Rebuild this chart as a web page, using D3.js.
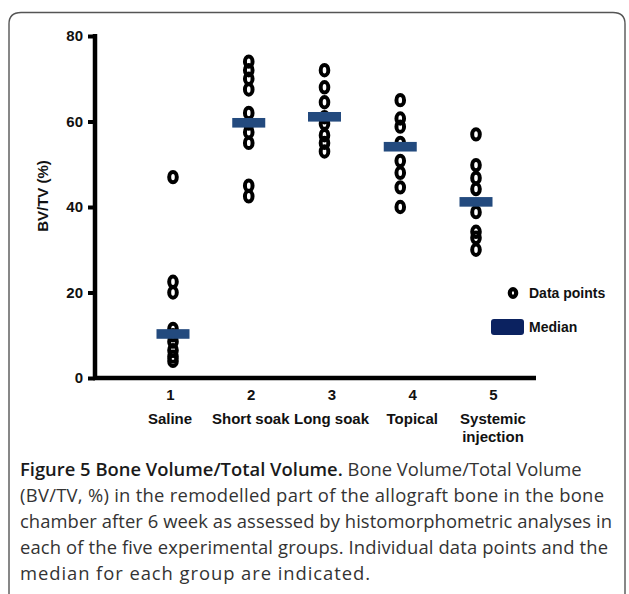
<!DOCTYPE html>
<html>
<head>
<meta charset="utf-8">
<script src="https://cdn.jsdelivr.net/npm/d3@7"></script>
<style>
  html, body { margin: 0; padding: 0; background: #fff; }
  svg { display: block; }
</style>
</head>
<body>
<svg id="chart" width="629" height="594"></svg>
<script>
// ---- data ----
const groupIds = [1, 2, 3, 4, 5];
const groupNames = ["Saline", "Short soak", "Long soak", "Topical", "Systemic\ninjection"];
const saline = [47, 22.5, 20, 11.5, 10, 8.5, 6.5, 5, 4];
const shortSoak = [74, 72, 70, 67.5, 62, 59.5, 57.5, 55, 45, 42.5];
const longSoak = [72, 68, 64.5, 61, 59.5, 56.8, 55, 53];
const topical = [65, 60.7, 58.8, 55, 50.8, 48, 44.6, 40];
const systemic = [57, 49.8, 46.8, 44.2, 38.8, 34.2, 32.8, 30];
const medians = [10.3, 59.7, 61.1, 54.1, 41.2];
const yTicks = [0, 20, 40, 60, 80];
const legendLabels = ["Data points", "Median"];
const captionBold = "Figure 5 Bone Volume/Total Volume.";
const captionLines = [
  " Bone Volume/Total Volume",
  "(BV/TV, %) in the remodelled part of the allograft bone in the bone",
  "chamber after 6 week as assessed by histomorphometric analyses in",
  "each of the five experimental groups. Individual data points and the",
  "median for each group are indicated."
];
const series = [saline, shortSoak, longSoak, topical, systemic];

// ---- drawing ----
const svg = d3.select("#chart");
const W = 629, H = 594;

// frame (open at bottom)
svg.append("path")
  .attr("d", `M9,${H + 2} L9,24 Q9,12.5 21,12.5 L613,12.5 Q625,12.5 625,24 L625,${H + 2}`)
  .attr("fill", "none").attr("stroke", "#555").attr("stroke-width", 1.4);

const y = d3.scaleLinear().domain([0, 80]).range([378, 36]);
const x = d3.scaleLinear().domain([1, 5]).range([173, 476]);      // marks
const xl = d3.scaleLinear().domain([1, 5]).range([170, 493]);     // labels (as drawn in source)

const axisFont = "'Liberation Sans', Arial, Helvetica, sans-serif";

// y axis
const yAxis = svg.append("g").attr("transform", "translate(95,0)")
  .call(d3.axisLeft(y).tickValues(yTicks).tickSize(7).tickPadding(5).tickFormat(d3.format("d")));
yAxis.select(".domain").remove();
yAxis.selectAll(".tick line").attr("stroke", "#000").attr("stroke-width", 4);
yAxis.selectAll(".tick text").attr("font-family", axisFont).attr("font-size", 15)
  .attr("font-weight", "bold").attr("fill", "#111");
svg.append("line").attr("x1", 95).attr("x2", 95).attr("y1", y(80) - 2).attr("y2", y(0) + 2)
  .attr("stroke", "#000").attr("stroke-width", 4.5);

// x axis line
svg.append("line").attr("x1", 93).attr("x2", 536).attr("y1", y(0)).attr("y2", y(0))
  .attr("stroke", "#000").attr("stroke-width", 4.5);

// x tick labels
const xAxis = svg.append("g").attr("transform", `translate(0,${y(0)})`)
  .call(d3.axisBottom(xl).tickValues(groupIds).tickSize(0).tickPadding(11).tickFormat(d3.format("d")));
xAxis.select(".domain").remove();
xAxis.selectAll(".tick text").attr("font-family", axisFont).attr("font-size", 15)
  .attr("font-weight", "bold").attr("fill", "#111");

// category names
svg.append("g").selectAll("text").data(groupNames).join("text")
  .attr("x", (d, i) => xl(groupIds[i]))
  .attr("y", 424)
  .attr("text-anchor", "middle")
  .attr("font-family", axisFont).attr("font-size", 15).attr("font-weight", "bold").attr("fill", "#111")
  .each(function (d) {
    const parts = d.split("\n");
    d3.select(this).selectAll("tspan").data(parts).join("tspan")
      .attr("x", d3.select(this).attr("x"))
      .attr("dy", (p, j) => j === 0 ? 0 : 18)
      .text(p => p);
  });

// y axis title
svg.append("text")
  .attr("transform", "translate(48,196) rotate(-90)")
  .attr("text-anchor", "middle")
  .attr("font-family", axisFont).attr("font-size", 15).attr("font-weight", "bold").attr("fill", "#111")
  .text("BV/TV (%)");

// data points
const pts = [];
series.forEach((s, i) => s.forEach(v => pts.push({ g: groupIds[i], v })));
svg.append("g").selectAll("ellipse").data(pts).join("ellipse")
  .attr("cx", d => x(d.g)).attr("cy", d => y(d.v))
  .attr("rx", 3.8).attr("ry", 5.2)
  .attr("fill", "none").attr("stroke", "#000").attr("stroke-width", 4);

// medians
svg.append("g").selectAll("rect").data(medians).join("rect")
  .attr("x", (d, i) => x(groupIds[i]) - 16.5)
  .attr("y", d => y(d) - 4.8)
  .attr("width", 33).attr("height", 9.6)
  .attr("fill", "#234a7e");

// legend
svg.append("ellipse").attr("cx", 513).attr("cy", 293).attr("rx", 3.2).attr("ry", 3.8)
  .attr("fill", "#fff").attr("stroke", "#000").attr("stroke-width", 4.2);
svg.append("rect").attr("x", 491).attr("y", 319).attr("width", 33).attr("height", 16).attr("rx", 3)
  .attr("fill", "#0b2260");
svg.append("g").selectAll("text").data(legendLabels).join("text")
  .attr("x", 529).attr("y", (d, i) => i === 0 ? 298 : 332)
  .attr("font-family", axisFont).attr("font-size", 14).attr("font-weight", "bold").attr("fill", "#111")
  .text(d => d);

// caption
const capFont = "'Open Sans', 'Noto Sans', sans-serif";
const cap = svg.append("g").attr("font-family", capFont).attr("font-size", 18.4).attr("fill", "#333");
const baselines = [476, 502, 528, 554, 580];
const lineWidths = [null, 584, 592, 588, 350];
captionLines.forEach((line, i) => {
  const t = cap.append("text").attr("x", 20).attr("y", baselines[i]);
  if (i === 0) {
    t.append("tspan").attr("font-weight", 600).attr("fill", "#1a1a1a").text(captionBold);
    t.append("tspan").text(line);
  } else {
    t.text(line).attr("textLength", lineWidths[i]).attr("lengthAdjust", "spacing");
  }
});
</script>
</body>
</html>
